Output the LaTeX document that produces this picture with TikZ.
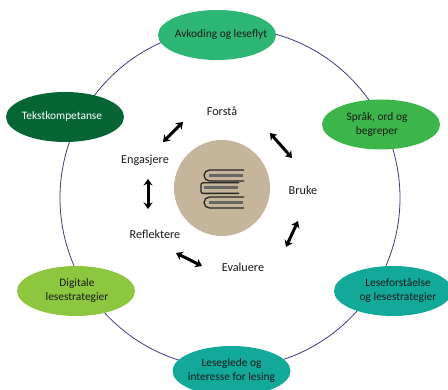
\documentclass[tikz,border=0pt]{standalone}
\usepackage{fontspec}
\setmainfont{Carlito}
\usetikzlibrary{arrows.meta,shapes.geometric}
\definecolor{ringc}{HTML}{3F3A80}
\definecolor{tan}{HTML}{C4B59B}
\definecolor{gA}{HTML}{2DB674}
\definecolor{gB}{HTML}{3CB54A}
\definecolor{gC}{HTML}{12A89A}
\definecolor{gD}{HTML}{8DC63F}
\definecolor{gE}{HTML}{076534}
\newcommand{\pilltext}[2]{\makebox[0pt][c]{\hspace*{#1}\begin{tabular}{@{}c@{}}#2\end{tabular}}}
\renewcommand{\arraystretch}{1.05}
\tikzset{
 x=1pt,y=-1pt,
 pill/.style={ellipse,minimum width=118pt,minimum height=50pt,inner sep=0pt,font=\fontsize{11.4}{13}\selectfont,text=black!90},
 word/.style={font=\fontsize{12.2}{13}\selectfont,text=black!90,inner sep=0pt},
 dbl/.style={line width=3pt,black,{Stealth[length=6.5pt,width=9pt]}-{Stealth[length=6.5pt,width=9pt]}},
 bookline/.style={line width=1.3pt,black!85},
 pagefill/.style={line width=3pt,black!60}
}
\begin{document}
\begin{tikzpicture}
\useasboundingbox (0,0) rectangle (448,390);
\begin{scope}
\clip (0,0) rectangle (448,390);
\node[circle,draw=ringc,line width=0.8pt,minimum size=340pt,inner sep=0pt] (ring) at (230,198) {};
\node[pill,fill=gA] (avk) at (217,35) {\pilltext{8pt}{Avkoding og leseflyt}};
\node[pill,fill=gB] (spr) at (381,124.5) {\pilltext{-8pt}{Språk, ord og\\begreper}};
\node[pill,fill=gC] (les) at (393,291) {\pilltext{10pt}{Leseforståelse\\og lesestrategier}};
\node[pill,fill=gC] (gle) at (231.5,371) {\pilltext{0pt}{Leseglede og\\interesse for lesing}};
\node[pill,fill=gD] (dig) at (76,291) {\pilltext{2pt}{Digitale\\lesestrategier}};
\node[pill,fill=gE,text=white] (tek) at (65,117) {\pilltext{-6pt}{Tekstkompetanse}};
\end{scope}
\node[circle,fill=tan,minimum size=96pt,inner sep=0pt] (hub) at (222,188) {};
% books
\draw[pagefill] (209,175.3) -- (243,175.3);
\draw[bookline] (244,170) -- (209.5,170) arc[start angle=270,end angle=90,radius=5.5] -- (244,181);
\draw[pagefill] (204,187.8) -- (238,187.8);
\draw[bookline,rounded corners=2pt] (239,182.8) -- (201,182.8) -- (201,193.4) -- (239,193.4);
\draw[pagefill] (209,202.3) -- (243,202.3);
\draw[bookline] (244,197) -- (209.5,197) arc[start angle=270,end angle=90,radius=5.5] -- (244,208);
\node[word] (fo) at (222,111) {Forstå};
\node[word] (br) at (303,190) {Bruke};
\node[word] (ev) at (243,267) {Evaluere};
\node[word] (re) at (155,234) {Reflektere};
\node[word] (en) at (145,160) {Engasjere};
\coordinate (a1) at (163,142); \coordinate (a2) at (183,122);
\coordinate (b1) at (270,133); \coordinate (b2) at (292,158);
\coordinate (c1) at (298,221); \coordinate (c2) at (286,247);
\coordinate (d1) at (202,266); \coordinate (d2) at (176,253);
\coordinate (e1) at (148,209); \coordinate (e2) at (148,179);
\draw[dbl] (a1) -- (a2);
\draw[dbl] (b1) -- (b2);
\draw[dbl] (c1) -- (c2);
\draw[dbl] (d1) -- (d2);
\draw[dbl] (e1) -- (e2);
\end{tikzpicture}
\end{document}
